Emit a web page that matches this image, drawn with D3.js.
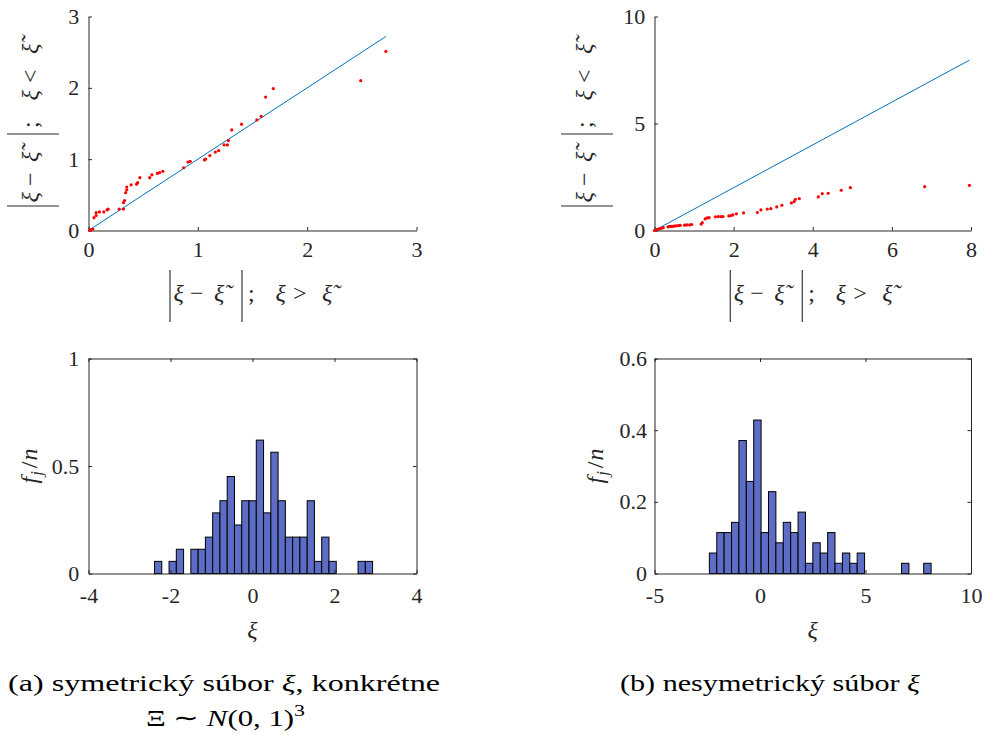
<!DOCTYPE html>
<html>
<head>
<meta charset="utf-8">
<script src="https://cdn.jsdelivr.net/npm/d3@7"></script>
<style>
  body { margin: 0; background: #fff; }
  svg { display: block; }
</style>
</head>
<body>
<svg id="fig" width="986" height="738"></svg>
<script>
// ---- (a) symmetric sample: |ξ − ξ̃| above the median vs below the median ----
const symUpperDev = [0.01, 0.02, 0.04, 0.05, 0.07, 0.07, 0.10, 0.14, 0.17, 0.18,
                     0.28, 0.32, 0.32, 0.33, 0.34, 0.35, 0.35, 0.39, 0.44, 0.45,
                     0.47, 0.56, 0.58, 0.63, 0.65, 0.68, 0.87, 0.91, 0.93, 1.06,
                     1.07, 1.11, 1.16, 1.19, 1.24, 1.27, 1.28, 1.31, 1.40, 1.54,
                     1.58, 1.62, 1.69, 2.49, 2.72];
const symLowerDev = [0.00, 0.01, 0.02, 0.18, 0.21, 0.25, 0.26, 0.26, 0.29, 0.30,
                     0.30, 0.30, 0.39, 0.42, 0.53, 0.57, 0.61, 0.64, 0.65, 0.67,
                     0.74, 0.74, 0.78, 0.80, 0.81, 0.83, 0.88, 0.96, 0.97, 0.99,
                     1.00, 1.05, 1.10, 1.12, 1.20, 1.20, 1.26, 1.41, 1.49, 1.55,
                     1.60, 1.87, 1.99, 2.10, 2.51];

// ---- (b) skewed sample ----
const asymUpperDev = [0.00, 0.07, 0.12, 0.17, 0.22, 0.34, 0.39, 0.44, 0.49, 0.54,
                      0.60, 0.65, 0.76, 0.82, 0.89, 0.94, 1.18, 1.21, 1.28, 1.33,
                      1.38, 1.54, 1.61, 1.68, 1.73, 1.88, 1.93, 1.98, 2.07, 2.25,
                      2.60, 2.69, 2.85, 2.94, 3.09, 3.22, 3.46, 3.53, 3.56, 3.66,
                      4.14, 4.24, 4.39, 4.72, 4.95, 6.83, 7.96];
const asymLowerDev = [0.00, 0.05, 0.08, 0.10, 0.13, 0.17, 0.19, 0.19, 0.20, 0.22,
                      0.23, 0.24, 0.25, 0.26, 0.26, 0.28, 0.30, 0.37, 0.54, 0.59,
                      0.60, 0.64, 0.65, 0.65, 0.65, 0.68, 0.70, 0.73, 0.78, 0.82,
                      0.84, 0.96, 1.00, 1.02, 1.10, 1.18, 1.29, 1.35, 1.46, 1.49,
                      1.57, 1.72, 1.74, 1.88, 2.00, 2.05, 2.11];

// ---- histograms: 30 equal bins, counts out of n, shown as density ----
const sampleSize = 100;
const symBinStart = -2.39, symBinWidth = 0.1773;
const symCounts = [1, 0, 1, 2, 0, 2, 2, 3, 5, 6, 8, 4, 6, 6, 11,
                   5, 10, 6, 3, 3, 3, 6, 1, 3, 1, 0, 0, 0, 1, 1];
const asymBinStart = -2.40, asymBinWidth = 0.3503;
const asymCounts = [2, 4, 4, 5, 13, 9, 15, 4, 8, 3, 5, 4, 6, 1, 3,
                    2, 4, 1, 2, 1, 2, 0, 0, 0, 0, 0, 1, 0, 0, 1];

// ---- tick values ----
const symQQTicks = [0, 1, 2, 3];
const asymQQXTicks = [0, 2, 4, 6, 8];
const asymQQYTicks = [0, 5, 10];
const symHistXTicks = [-4, -2, 0, 2, 4];
const symHistYTicks = [0, 0.5, 1];
const asymHistXTicks = [-5, 0, 5, 10];
const asymHistYTicks = [0, 0.2, 0.4, 0.6];

// ---- drawing ----
const FONT = '"Liberation Serif", "Times New Roman", serif';
const svg = d3.select("#fig").style("font-family", FONT);
const AXIS_COLOR = "#262626";
const TICK_LEN = 3.5;
const TICK_FS = 22;
const LABEL_FS = 24;

const boxes = {
  tl: { left: 88.5, right: 416.5, top: 16.5, bottom: 230.5 },
  tr: { left: 654.5, right: 971, top: 16.5, bottom: 230.5 },
  bl: { left: 88.5, right: 416.5, top: 358.5, bottom: 573.5 },
  br: { left: 654.5, right: 971, top: 358.5, bottom: 573.5 }
};

function scales(b, xDom, yDom) {
  return {
    x: d3.scaleLinear().domain(xDom).range([b.left, b.right]),
    y: d3.scaleLinear().domain(yDom).range([b.bottom, b.top])
  };
}

function styleAxis(sel) {
  sel.attr("font-size", TICK_FS).attr("font-family", null).style("font-family", FONT);
  sel.select(".domain").attr("stroke", AXIS_COLOR).attr("stroke-width", 1);
  sel.selectAll(".tick line").attr("stroke", AXIS_COLOR).attr("stroke-width", 1);
  sel.selectAll(".tick text").attr("fill", AXIS_COLOR).style("font-family", FONT);
}

const fmt = d => String(d);

function qqPanel(b, xs, ys, xDom, yDom, xTicks, yTicks, padY) {
  const { x, y } = scales(b, xDom, yDom);
  const g = svg.append("g");
  g.append("g").attr("transform", `translate(0,${b.bottom})`)
    .call(d3.axisBottom(x).tickValues(xTicks).tickFormat(fmt)
      .tickSizeInner(-TICK_LEN).tickSizeOuter(0).tickPadding(11))
    .call(styleAxis);
  g.append("g").attr("transform", `translate(${b.left},0)`)
    .call(d3.axisLeft(y).tickValues(yTicks).tickFormat(fmt)
      .tickSizeInner(-TICK_LEN).tickSizeOuter(0).tickPadding(padY))
    .call(styleAxis);
  // reference diagonal: equal deviation on both sides of the median
  const lim = d3.max(xs);
  g.append("line")
    .attr("x1", x(0)).attr("y1", y(0)).attr("x2", x(lim)).attr("y2", y(lim))
    .attr("stroke", "#0072BD").attr("stroke-width", 1);
  g.append("g").selectAll("circle")
    .data(d3.zip(xs, ys))
    .join("circle")
    .attr("cx", d => x(d[0])).attr("cy", d => y(d[1]))
    .attr("r", 1.6).attr("fill", "#ff0000");
}

function histPanel(b, start, width, counts, xDom, yDom, xTicks, yTicks, padY) {
  const { x, y } = scales(b, xDom, yDom);
  const g = svg.append("g");
  const bins = counts.map((c, i) => ({
    x0: start + i * width,
    x1: start + (i + 1) * width,
    h: c / (sampleSize * width)
  }));
  g.append("g").selectAll("rect")
    .data(bins)
    .join("rect")
    .attr("x", d => x(d.x0)).attr("width", d => x(d.x1) - x(d.x0))
    .attr("y", d => y(d.h)).attr("height", d => y(0) - y(d.h))
    .attr("fill", "#5d6dc5").attr("stroke", "#000").attr("stroke-width", 1);
  g.append("g").attr("transform", `translate(0,${b.bottom})`)
    .call(d3.axisBottom(x).tickValues(xTicks).tickFormat(fmt)
      .tickSizeInner(-TICK_LEN).tickSizeOuter(0).tickPadding(13.6))
    .call(styleAxis);
  g.append("g").attr("transform", `translate(0,${b.top})`)
    .call(d3.axisTop(x).tickValues(xTicks).tickFormat("")
      .tickSizeInner(-TICK_LEN).tickSizeOuter(0))
    .call(styleAxis);
  g.append("g").attr("transform", `translate(${b.left},0)`)
    .call(d3.axisLeft(y).tickValues(yTicks).tickFormat(fmt)
      .tickSizeInner(-TICK_LEN).tickSizeOuter(0).tickPadding(padY))
    .call(styleAxis);
  g.append("g").attr("transform", `translate(${b.right},0)`)
    .call(d3.axisRight(y).tickValues(yTicks).tickFormat("")
      .tickSizeInner(-TICK_LEN).tickSizeOuter(0))
    .call(styleAxis);
}

// |ξ − ξ̃| ; ξ (cmp) ξ̃ — one text element, pieces placed along the baseline from x = 0;
// the median tilde is a combining mark on the ξ it belongs to
const DEV_LABEL_WIDTH = 167;
function devLabel(transform, cmp) {
  const g = svg.append("g").attr("transform", transform);
  const parts = [
    { t: "ξ", x: 4.5, it: true },
    { t: "−", x: 21 },
    { t: "ξ\u0303", x: 45, it: true },
    { t: ";", x: 79 },
    { t: "ξ", x: 106.5, it: true },
    { t: cmp, x: 124 },
    { t: "ξ\u0303", x: 153, it: true }
  ];
  const bars = [0, 72];
  g.selectAll("line").data(bars).join("line")
    .attr("x1", d => d + 1).attr("x2", d => d + 1)
    .attr("y1", -31).attr("y2", 21)
    .attr("stroke", AXIS_COLOR).attr("stroke-width", 1.1);
  const t = g.append("text").attr("font-size", LABEL_FS).attr("fill", AXIS_COLOR)
    .style("font-family", FONT);
  parts.forEach(p => {
    t.append("tspan").attr("x", p.x).attr("y", 0)
      .style("font-style", p.it ? "italic" : "normal").text(p.t);
  });
}

function fjLabel(cx, cy) {
  const t = svg.append("text")
    .attr("transform", `translate(${cx},${cy}) rotate(-90)`)
    .attr("text-anchor", "middle").attr("font-size", LABEL_FS).attr("fill", AXIS_COLOR)
    .style("font-family", FONT);
  t.append("tspan").style("font-style", "italic").text("f");
  t.append("tspan").style("font-style", "italic").attr("font-size", 17).attr("dy", 5).attr("dx", 1).text("j");
  t.append("tspan").attr("dy", -5).attr("dx", 3).text("/");
  t.append("tspan").style("font-style", "italic").attr("dx", 1).text("n");
}

function xiLabel(cx, y) {
  svg.append("text").attr("x", cx).attr("y", y)
    .attr("text-anchor", "middle").attr("font-size", LABEL_FS)
    .attr("fill", AXIS_COLOR).style("font-family", FONT)
    .style("font-style", "italic").text("ξ");
}

// panels
qqPanel(boxes.tl, symUpperDev, symLowerDev, [0, 3], [0, 3], symQQTicks, symQQTicks, 9.3);
qqPanel(boxes.tr, asymUpperDev, asymLowerDev, [0, 8], [0, 10], asymQQXTicks, asymQQYTicks, 9.3);
histPanel(boxes.bl, symBinStart, symBinWidth, symCounts, [-4, 4], [0, 1], symHistXTicks, symHistYTicks, 9.3);
histPanel(boxes.br, asymBinStart, asymBinWidth, asymCounts, [-5, 10], [0, 0.6], asymHistXTicks, asymHistYTicks, 7.5);

// axis labels
function midX(b) { return (b.left + b.right) / 2; }
function midY(b) { return (b.top + b.bottom) / 2; }
devLabel(`translate(${midX(boxes.tl) - DEV_LABEL_WIDTH / 2},301)`, ">");
devLabel(`translate(${midX(boxes.tr) - DEV_LABEL_WIDTH / 2},301)`, ">");
devLabel(`translate(38,${midY(boxes.tl) + DEV_LABEL_WIDTH / 2}) rotate(-90)`, "<");
devLabel(`translate(592,${midY(boxes.tr) + DEV_LABEL_WIDTH / 2}) rotate(-90)`, "<");
fjLabel(37, midY(boxes.bl));
fjLabel(603, midY(boxes.br));
xiLabel(midX(boxes.bl), 638);
xiLabel(midX(boxes.br), 638);

// sub-captions
function caption(x, y, len) {
  return svg.append("text").attr("x", x).attr("y", y)
    .attr("text-anchor", "middle").attr("font-size", 24).attr("fill", "#000")
    .style("font-family", FONT)
    .attr("textLength", len).attr("lengthAdjust", "spacingAndGlyphs");
}
const capA = caption(224, 690.5, 432);
capA.append("tspan").text("(a) symetrický súbor ");
capA.append("tspan").style("font-style", "italic").text("ξ");
capA.append("tspan").text(", konkrétne");

const capA2 = caption(225.5, 726, 159);
capA2.append("tspan").text("Ξ ∼ ");
capA2.append("tspan").style("font-style", "italic").text("N");
capA2.append("tspan").text("(0, 1)");
capA2.append("tspan").attr("font-size", 17).attr("dy", -10).text("3");

const capB = caption(770, 690.5, 300);
capB.append("tspan").text("(b) nesymetrický súbor ");
capB.append("tspan").style("font-style", "italic").text("ξ");
</script>
</body>
</html>
